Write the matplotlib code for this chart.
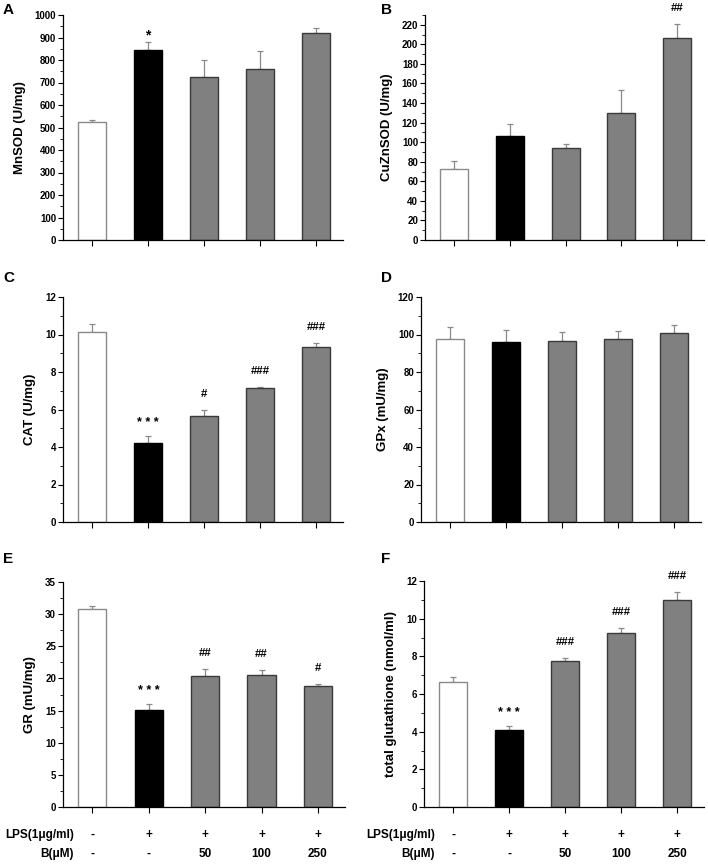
import matplotlib
matplotlib.use("Agg")
import matplotlib.pyplot as plt
from matplotlib.ticker import MultipleLocator

plt.rcParams['font.family'] = ['Liberation Sans', 'DejaVu Sans']
plt.rcParams['font.weight'] = 'bold'

groups = ["ctrl", "LPS", "LPS+B50", "LPS+B100", "LPS+B250"]
lps_row = ["-", "+", "+", "+", "+"]
b_row = ["-", "-", "50", "100", "250"]

mnsod = [525, 843, 726, 762, 922]
mnsod_err = [10, 36, 76, 77, 22]
mnsod_sig = ["", "*", "", "", ""]

cuznsod = [72.2, 106.6, 94.3, 130.1, 206.0]
cuznsod_err = [8.2, 11.6, 3.5, 22.8, 14.4]
cuznsod_sig = ["", "", "", "", "##"]

cat = [10.14, 4.20, 5.66, 7.16, 9.31]
cat_err = [0.41, 0.41, 0.30, 0.06, 0.26]
cat_sig = ["", "* * *", "#", "###", "###"]

gpx = [97.8, 95.8, 96.7, 97.6, 100.6]
gpx_err = [6.0, 6.8, 4.6, 4.3, 4.6]
gpx_sig = ["", "", "", "", ""]

gr = [30.8, 15.1, 20.4, 20.5, 18.9]
gr_err = [0.4, 1.0, 1.0, 0.8, 0.3]
gr_sig = ["", "* * *", "##", "##", "#"]

gsh = [6.66, 4.08, 7.73, 9.23, 10.99]
gsh_err = [0.22, 0.24, 0.19, 0.29, 0.41]
gsh_sig = ["", "* * *", "###", "###", "###"]

fills = ["white", "black", "#808080", "#808080", "#808080"]
edges = ["#8a8a8a", "black", "#3a3a3a", "#3a3a3a", "#3a3a3a"]

W, H = 708, 864
fig = plt.figure(figsize=(W / 100, H / 100), dpi=100)


def axes_px(left, right, top, bottom):
    return fig.add_axes([left / W, 1 - bottom / H, (right - left) / W, (bottom - top) / H])


def sig_style(s):
    if s == "*":
        return 10, 2
    if s.startswith("*"):
        return 9, 7
    return 8.2, 9.4


panels = [
    ("A", (63, 343, 15, 240), mnsod, mnsod_err, mnsod_sig, "MnSOD (U/mg)", (0, 1000), 100, 50, (3, 3)),
    ("B", (425, 704, 15, 240), cuznsod, cuznsod_err, cuznsod_sig, "CuZnSOD (U/mg)", (0, 230), 20, 10, (381, 3)),
    ("C", (63, 343, 297, 522), cat, cat_err, cat_sig, "CAT (U/mg)", (0, 12), 2, 1, (3, 271)),
    ("D", (421, 701, 297, 522), gpx, gpx_err, gpx_sig, "GPx (mU/mg)", (0, 120), 20, 10, (381, 271)),
    ("E", (63, 345, 582, 807), gr, gr_err, gr_sig, "GR (mU/mg)", (0, 35), 5, 2.5, (3, 552)),
    ("F", (424, 704, 581, 807), gsh, gsh_err, gsh_sig, "total glutathione (nmol/ml)", (0, 12), 2, 1, (381, 552)),
]

for label, box, vals, errs, sigs, ylab, ylim, major, minor, lpos in panels:
    ax = axes_px(*box)
    x = list(range(len(vals)))
    ax.bar(x, vals, width=0.5, color=fills, edgecolor=edges, linewidth=1.0, zorder=2)
    ax.errorbar(x, vals, yerr=[[0] * len(errs), errs], fmt="none", ecolor="#8a8a8a",
                elinewidth=0.9, capsize=2.5, capthick=0.9, zorder=1)
    for xi, v, e, s in zip(x, vals, errs, sigs):
        if s:
            fs, off = sig_style(s)
            ax.annotate(s, xy=(xi, v + e), xytext=(0, off),
                        textcoords="offset points", ha="center", va="baseline",
                        fontsize=fs, fontweight="bold", annotation_clip=False)
    ax.set_xlim(-0.52, 4.48)
    ax.set_ylim(*ylim)
    ax.yaxis.set_major_locator(MultipleLocator(major))
    ax.yaxis.set_minor_locator(MultipleLocator(minor))
    ax.set_xticks(x)
    ax.set_xticklabels([])
    for sp in ["top", "right"]:
        ax.spines[sp].set_visible(False)
    for sp in ["left", "bottom"]:
        ax.spines[sp].set_linewidth(0.9)
    ax.tick_params(axis="y", which="major", length=3.5, width=0.8, labelsize=7, pad=1.5)
    ax.tick_params(axis="y", which="minor", length=2, width=0.6)
    ax.tick_params(axis="x", which="major", length=4, width=0.8)
    for t in ax.get_yticklabels():
        t.set_fontweight("bold")
    ax.set_ylabel(ylab, fontsize=9.5, fontweight="bold", labelpad=6.5)
    fig.text(lpos[0] / W, 1 - lpos[1] / H, label, fontsize=11, fontweight="bold",
             ha="left", va="top")
    if label in ("E", "F"):
        for row_i, (row, name) in enumerate([(lps_row, "LPS(1μg/ml)"), (b_row, "B(μM)")]):
            dy = -20 if row_i == 0 else -34
            for xi, s in zip(x, row):
                ax.annotate(s, xy=(xi, 0), xycoords=("data", "axes fraction"),
                            xytext=(0, dy), textcoords="offset points", ha="center",
                            va="center", fontsize=8.5, fontweight="bold",
                            annotation_clip=False)
            ax.annotate(name, xy=(-0.33, 0), xycoords=("data", "axes fraction"),
                        xytext=(0, dy), textcoords="offset points", ha="right",
                        va="center", fontsize=8.5, fontweight="bold",
                        annotation_clip=False)

fig.savefig("out.png", dpi=100)
